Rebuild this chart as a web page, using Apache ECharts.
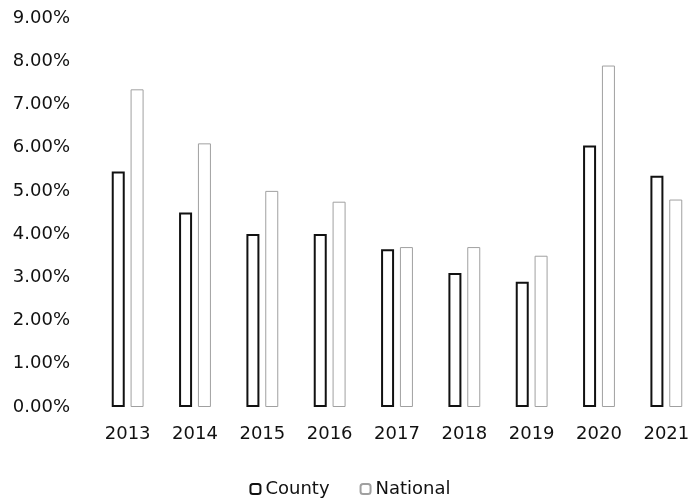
<!DOCTYPE html>
<html>
<head>
<meta charset="utf-8">
<script src="https://cdn.jsdelivr.net/npm/echarts@6/dist/echarts.min.js"></script>
<style>
    html, body { margin: 0; padding: 0; background: #ffffff; }
    #chart { width: 700px; height: 500px; }
</style>
</head>
<body>
<div id="chart"></div>
<script>
// data (percent)
const years = ['2013', '2014', '2015', '2016', '2017', '2018', '2019', '2020', '2021'];
const countyValues = [5.45, 4.5, 4.0, 4.0, 3.65, 3.1, 2.9, 6.05, 5.35];
const nationalValues = [7.35, 6.1, 5.0, 4.75, 3.7, 3.7, 3.5, 7.9, 4.8];
const yTicks = { min: 0, max: 9, interval: 1 };

const myEcharts = echarts.init(document.getElementById('chart'));

const font = 'DejaVu Sans';

const option = {
    animation: false,
    grid: {
        top: 18,
        bottom: 93,
        left: 94,
        right: -14
    },
    legend: {
        bottom: -3,
        left: 'center',
        itemWidth: 10,
        itemHeight: 10,
        itemGap: 30,
        textStyle: {
            color: '#111111',
            fontSize: 18,
            fontFamily: font
        },
        data: ['County', 'National']
    },
    xAxis: {
        type: 'category',
        data: years,
        axisLine: { show: false },
        axisTick: { show: false },
        splitLine: { show: false },
        axisLabel: {
            color: '#111111',
            fontSize: 18,
            fontFamily: font,
            margin: 18
        }
    },
    yAxis: {
        type: 'value',
        min: yTicks.min,
        max: yTicks.max,
        interval: yTicks.interval,
        axisLine: { show: false },
        axisTick: { show: false },
        splitLine: { show: false },
        axisLabel: {
            color: '#111111',
            fontSize: 18,
            fontFamily: font,
            margin: 24,
            formatter: v => v.toFixed(2) + '%'
        }
    },
    series: [{
        name: 'County',
        type: 'bar',
        data: countyValues,
        barWidth: 13,
        barGap: '45%',
        itemStyle: {
            color: '#ffffff',
            borderColor: '#111111',
            borderWidth: 2
        }
    }, {
        name: 'National',
        type: 'bar',
        data: nationalValues,
        barWidth: 13,
        itemStyle: {
            color: '#ffffff',
            borderColor: '#a0a0a0',
            borderWidth: 1
        }
    }]
};

myEcharts.setOption(option);
</script>
</body>
</html>
